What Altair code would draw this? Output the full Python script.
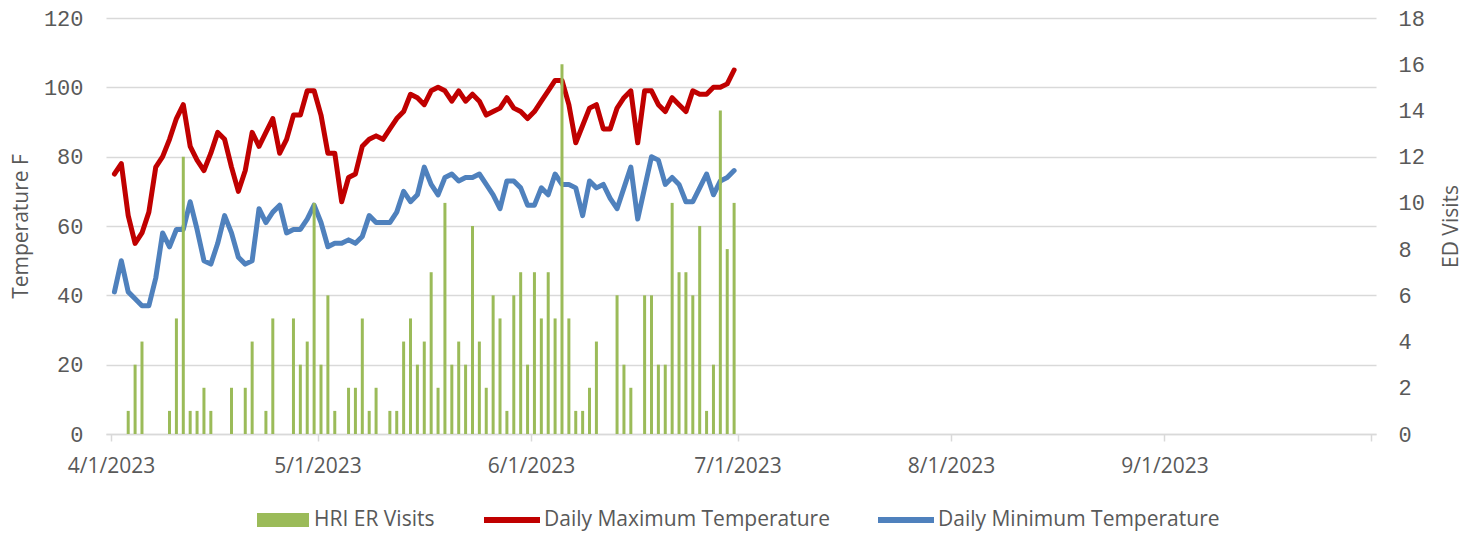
import altair as alt
import pandas as pd

# ---- data ----
START_DAY = "2023-04-01"
END_DAY = "2023-06-30"

HRI_VISITS = [0, 0, 1, 3, 4, 0, 0, 0, 1, 5,
              12, 1, 1, 2, 1, 0, 0, 2, 0, 2,
              4, 0, 1, 5, 0, 0, 5, 3, 4, 10,
              3, 6, 1, 0, 2, 2, 5, 1, 2, 0,
              1, 1, 4, 5, 3, 4, 7, 2, 10, 3,
              4, 3, 9, 4, 2, 6, 5, 1, 6, 7,
              3, 7, 5, 7, 5, 16, 5, 1, 1, 2,
              4, 0, 0, 6, 3, 2, 0, 6, 6, 3,
              3, 10, 7, 7, 6, 9, 1, 3, 14, 8,
              10]

TMAX = [75, 78, 63, 55, 58, 64, 77, 80, 85, 91,
        95, 83, 79, 76, 81, 87, 85, 77, 70, 76,
        87, 83, 87, 91, 81, 85, 92, 92, 99, 99,
        92, 81, 81, 67, 74, 75, 83, 85, 86, 85,
        88, 91, 93, 98, 97, 95, 99, 100, 99, 96,
        99, 96, 98, 96, 92, 93, 94, 97, 94, 93,
        91, 93, 96, 99, 102, 102, 95, 84, 89, 94,
        95, 88, 88, 94, 97, 99, 84, 99, 99, 95,
        93, 97, 95, 93, 99, 98, 98, 100, 100, 101,
        105]

TMIN = [41, 50, 41, 39, 37, 37, 45, 58, 54, 59,
        59, 67, 59, 50, 49, 55, 63, 58, 51, 49,
        50, 65, 61, 64, 66, 58, 59, 59, 62, 66,
        61, 54, 55, 55, 56, 55, 57, 63, 61, 61,
        61, 64, 70, 67, 69, 77, 72, 69, 74, 75,
        73, 74, 74, 75, 72, 69, 65, 73, 73, 71,
        66, 66, 71, 69, 75, 72, 72, 71, 63, 73,
        71, 72, 68, 65, 71, 77, 62, 71, 80, 79,
        72, 74, 72, 67, 67, 71, 75, 69, 73, 74,
        76]

SERIES = ["HRI ER Visits", "Daily Maximum Temperature", "Daily Minimum Temperature"]
COLORS = ["#9BBB59", "#C00000", "#4F81BD"]
X_TICK_MONTHS = [4, 5, 6, 7, 8, 9, 10]
TEMP_TICKS = [0, 20, 40, 60, 80, 100, 120]
VISIT_TICKS = [0, 2, 4, 6, 8, 10, 12, 14, 16, 18]

# ---- table ----
days = pd.date_range(START_DAY, END_DAY, freq="D")
df = pd.DataFrame({
    "date": (days + pd.Timedelta(hours=12)).strftime("%Y-%m-%dT%H:%M:%S"),
    SERIES[0]: HRI_VISITS,
    SERIES[1]: TMAX,
    SERIES[2]: TMIN,
})

GREY = "#595959"
GRID = "#D9D9D9"
SANS = "Open Sans"
MONO = "Liberation Mono"

x_enc = alt.X(
    "date:T",
    title=None,
    scale=alt.Scale(domain=[alt.DateTime(year=2023, month=4, date=1),
                            alt.DateTime(year=2023, month=10, date=1)]),
    axis=alt.Axis(
        values=[alt.DateTime(year=2023, month=m, date=1) for m in X_TICK_MONTHS],
        labelExpr="month(datum.value) == 9 ? '' : timeFormat(datum.value, '%-m/%-d/%Y')",
        labelFont=SANS, labelFontSize=21, labelColor=GREY,
        labelPadding=14, labelFlush=False, labelOverlap=False,
        tickColor=GRID, tickSize=7, tickWidth=1.5,
        domainColor=GRID, domainWidth=1.5, grid=False,
    ),
)

lines = alt.Chart(df).transform_fold(
    [SERIES[1], SERIES[2]], as_=["series", "temp"]
).mark_line(strokeWidth=5, strokeJoin="round", strokeCap="round").encode(
    x=x_enc,
    y=alt.Y("temp:Q", scale=alt.Scale(domain=[0, 120], nice=False),
            axis=alt.Axis(
                values=TEMP_TICKS, title="Temperature F", orient="left",
                labelFont=MONO, labelFontSize=22, labelColor=GREY, labelPadding=23,
                ticks=False, domain=False, grid=True, gridColor=GRID, gridWidth=1.5,
                titleFont=SANS, titleFontSize=21, titleFontWeight="normal", titleColor=GREY,
                titleAngle=270, titleX=-85, titleY=208, titleAlign="center", titleBaseline="middle",
            )),
    stroke=alt.Stroke(
        "series:N",
        scale=alt.Scale(domain=[SERIES[1], SERIES[2]], range=[COLORS[1], COLORS[2]]),
        legend=alt.Legend(
            title=None, orient="none", legendX=375, legendY=471, direction="horizontal",
            symbolType="stroke", symbolSize=3136, symbolStrokeWidth=6,
            labelFont=SANS, labelFontSize=21, labelColor=GREY, labelOffset=1,
            columnPadding=36, padding=0, labelLimit=0,
        ),
    ),
    order=alt.Order("date:T"),
)

bars = alt.Chart(df).transform_calculate(
    series="'HRI ER Visits'"
).mark_bar(size=3).encode(
    x=x_enc,
    y=alt.Y(f"{SERIES[0]}:Q", scale=alt.Scale(domain=[0, 18], nice=False),
            axis=alt.Axis(
                values=VISIT_TICKS, title="ED Visits", orient="right",
                labelFont=MONO, labelFontSize=22, labelColor=GREY, labelPadding=22,
                ticks=False, domain=False, grid=False,
                titleFont=SANS, titleFontSize=21, titleFontWeight="normal", titleColor=GREY,
                titleAngle=270, titleX=75, titleY=208, titleAlign="center", titleBaseline="middle",
            )),
    fill=alt.Fill(
        "series:N",
        scale=alt.Scale(domain=[SERIES[0]], range=[COLORS[0]]),
        legend=alt.Legend(
            title=None, orient="none", legendX=151, legendY=476, direction="horizontal",
            symbolType="M-1,-0.27H1V0.27H-1Z", symbolSize=2704, symbolStrokeWidth=0,
            symbolStrokeColor="transparent",
            labelFont=SANS, labelFontSize=21, labelColor=GREY, labelOffset=5,
            padding=0, labelLimit=0,
        ),
    ),
)

chart = alt.layer(lines, bars).resolve_scale(
    y="independent"
).properties(
    width=1270,
    height=416,
    autosize=alt.AutoSizeParams(type="none"),
    padding={"left": 98, "top": 10, "right": 90, "bottom": 98},
).configure_view(stroke=None)

chart.save("out.html", embed_options={"renderer": "svg", "actions": False})
